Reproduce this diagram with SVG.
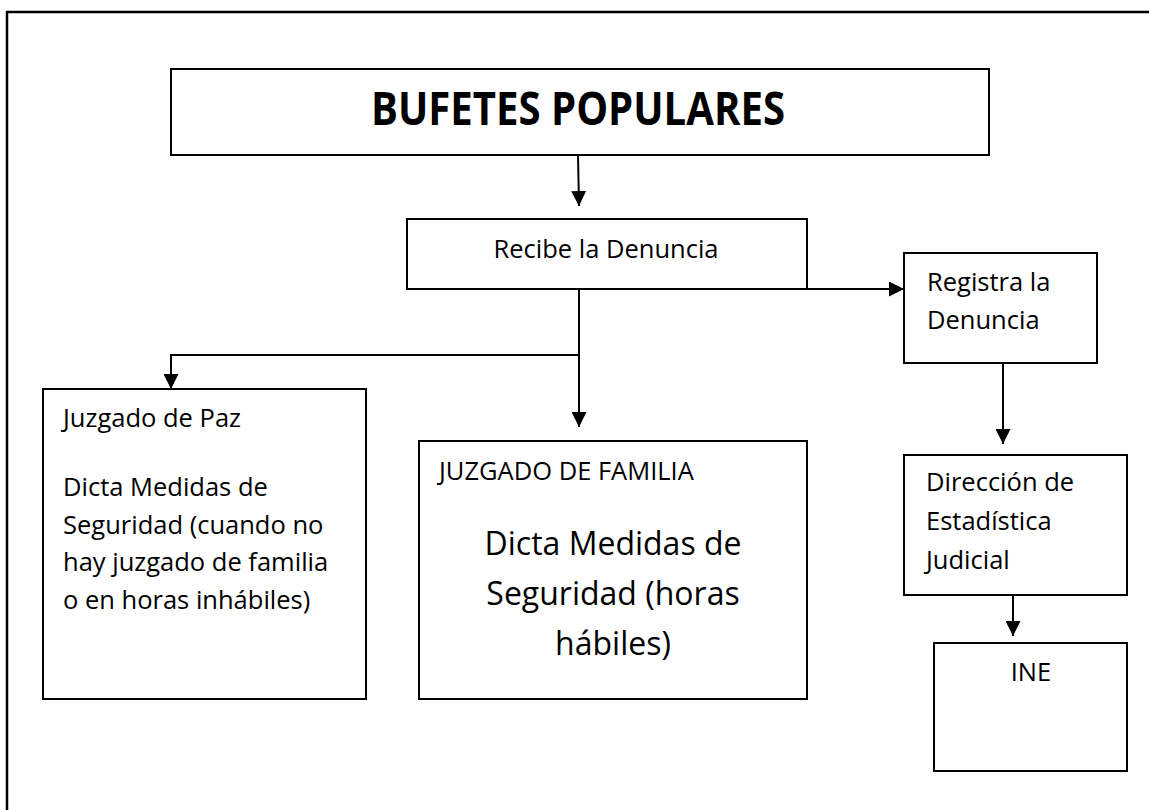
<svg xmlns="http://www.w3.org/2000/svg" width="1149" height="810" viewBox="0 0 1149 810">
<style>
.box{fill:#fff;stroke:#000;stroke-width:2}
.t{font-family:"Open Sans","Liberation Sans",sans-serif;font-size:25.5px;fill:#000}
.big{font-family:"Open Sans","Liberation Sans",sans-serif;font-size:32px;fill:#000}
.title{font-family:"Open Sans","Liberation Sans",sans-serif;font-size:46px;font-weight:bold;fill:#000}
.c{fill:none;stroke:#000;stroke-width:2}
</style>
<defs>
<marker id="ah" markerWidth="15" markerHeight="15" viewBox="0 0 15 15" refX="15" refY="7.5" orient="auto" markerUnits="userSpaceOnUse">
<path d="M0,0 L15,7.5 L0,15 Z" fill="#000"/>
</marker>
</defs>
<rect x="0" y="0" width="1149" height="810" fill="#fff"/>
<rect x="7" y="12" width="1160" height="820" fill="none" stroke="#000" stroke-width="2.5"/>
<g id="connectors">
<path class="c" d="M578,155 L579,206" marker-end="url(#ah)"/>
<path class="c" d="M807,289 L904,289" marker-end="url(#ah)"/>
<path class="c" d="M579,289 L579,427" marker-end="url(#ah)"/>
<path class="c" d="M579,355 L171,355 L171,389" marker-end="url(#ah)"/>
<path class="c" d="M1003,363 L1003,444" marker-end="url(#ah)"/>
<path class="c" d="M1013,595 L1013,636" marker-end="url(#ah)"/>
</g>
<g id="title">
<rect class="box" x="171" y="69" width="818" height="86"/>
<text class="title" x="578" y="125" text-anchor="middle" textLength="414" lengthAdjust="spacingAndGlyphs">BUFETES POPULARES</text>
</g>
<g id="recibe">
<rect class="box" x="407" y="219" width="400" height="70"/>
<text class="t" x="606" y="258" text-anchor="middle">Recibe la Denuncia</text>
</g>
<g id="registra">
<rect class="box" x="904" y="253" width="193" height="110"/>
<text class="t" x="927" y="291">Registra la</text>
<text class="t" x="927" y="329">Denuncia</text>
</g>
<g id="paz">
<rect class="box" x="43" y="389" width="323" height="310"/>
<text class="t" x="63" y="427">Juzgado de Paz</text>
<text class="t" x="63" y="496">Dicta Medidas de</text>
<text class="t" x="63" y="533.5">Seguridad (cuando no</text>
<text class="t" x="63" y="571">hay juzgado de familia</text>
<text class="t" x="63" y="608.5">o en horas inhábiles)</text>
</g>
<g id="familia">
<rect class="box" x="419" y="441" width="388" height="258"/>
<text class="t" x="439" y="480">JUZGADO DE FAMILIA</text>
<text class="big" x="613" y="555" text-anchor="middle">Dicta Medidas de</text>
<text class="big" x="613" y="605" text-anchor="middle">Seguridad (horas</text>
<text class="big" x="613" y="655" text-anchor="middle">hábiles)</text>
</g>
<g id="direccion">
<rect class="box" x="904" y="455" width="223" height="140"/>
<text class="t" x="926" y="491">Dirección de</text>
<text class="t" x="926" y="530">Estadística</text>
<text class="t" x="926" y="569">Judicial</text>
</g>
<g id="ine">
<rect class="box" x="934" y="643" width="193" height="128"/>
<text class="t" x="1031" y="681" text-anchor="middle">INE</text>
</g>
</svg>
